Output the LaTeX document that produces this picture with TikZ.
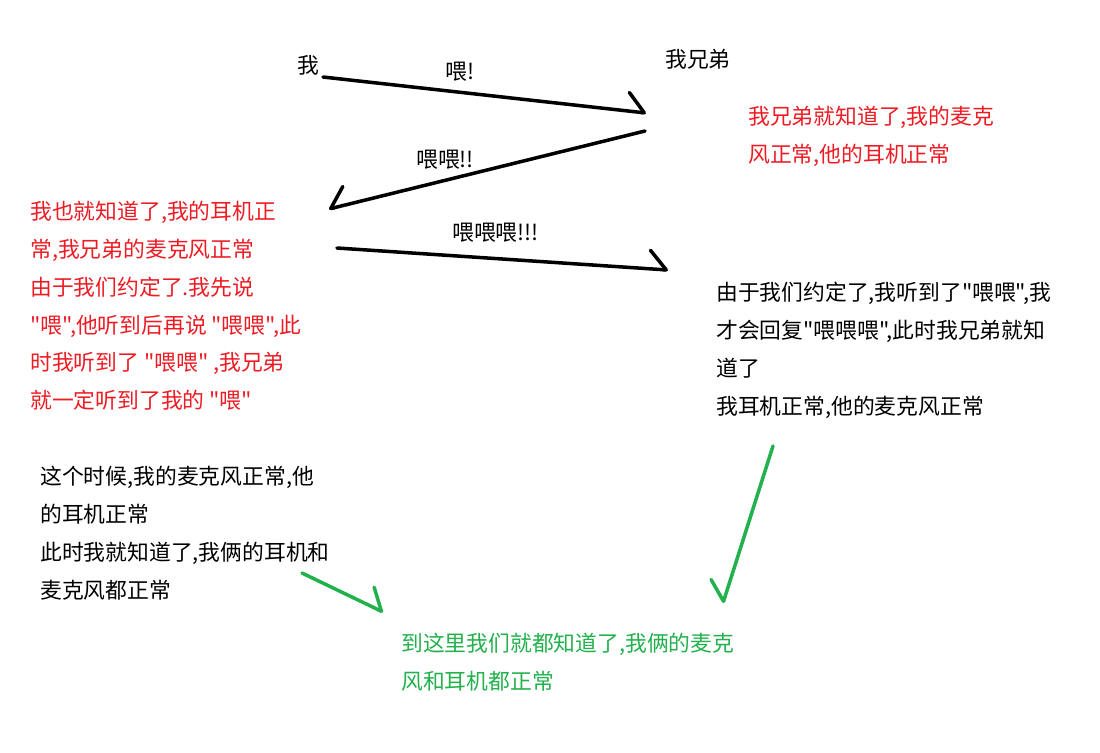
\documentclass[tikz,border=0pt]{standalone}
\usepackage{fontspec}
\newfontfamily\cjk{Noto Sans CJK SC}
\usepackage{xcolor}
\definecolor{hired}{RGB}{237,28,36}
\definecolor{higreen}{RGB}{34,177,76}
\usepackage{tikz}
\usetikzlibrary{arrows.meta}

\tikzset{
  said/.style={inner sep=0pt, anchor=north west, font=\cjk\fontsize{12.4}{21.5}\selectfont},
  note/.style={said, align=left},
  msg/.style={line width=2pt, line cap=round,
    -{Straight Barb[#1, length=0.34cm, width=0.74cm, round]}},
}

\begin{document}
\begin{tikzpicture}[x=0.02cm, y=-0.02cm]
  \useasboundingbox (0,0) rectangle (1100,752);

  % --- the two ends ---
  \node[said] (me)  at (297,55) {我};
  \node[said] (bro) at (665,49) {我兄弟};

  % --- messages ---
  \coordinate (m1s) at (323,77);  \coordinate (m1e) at (646,113);
  \coordinate (m2s) at (645,131); \coordinate (m2e) at (329,209);
  \coordinate (m3s) at (337,248); \coordinate (m3e) at (668,270);
  \draw[msg=left]  (m1s) -- (m1e);
  \draw[msg=right] (m2s) -- (m2e);
  \draw[msg=left]  (m3s) -- (m3e);
  \node[said] (hi1) at (445,62)  {喂!};
  \node[said] (hi2) at (416,150) {喂喂!!};
  \node[said] (hi3) at (452,223) {喂喂喂!!!};

  % --- what each side knows ---
  \node[note, hired] (broknows) at (748,106)
    {我兄弟就知道了,我的麦克\\风正常,他的耳机正常};
  \node[note, hired] (meknows) at (30,201)
    {我也就知道了,我的耳机正\\常,我兄弟的麦克风正常\\由于我们约定了.我先说\\"喂",他听到后再说 "喂喂",此\\时我听到了 "喂喂" ,我兄弟\\就一定听到了我的 "喂"};
  \node[note] (broreply) at (716,282)
    {由于我们约定了,我听到了"喂喂",我\\才会回复"喂喂喂",此时我兄弟就知\\道了\\我耳机正常,他的麦克风正常};
  \node[note] (mefinal) at (40,466)
    {这个时候,我的麦克风正常,他\\的耳机正常\\此时我就知道了,我俩的耳机和\\麦克风都正常};

  % --- conclusion ---
  \node[note, higreen] (both) at (401,633)
    {到这里我们就都知道了,我俩的麦克\\风和耳机都正常};
  \coordinate (g1s) at (302,573); \coordinate (g1e) at (383,612);
  \coordinate (g2s) at (773,446); \coordinate (g2e) at (723,603);
  \draw[msg=left, higreen]  (g1s) -- (g1e);
  \draw[msg=right, higreen] (g2s) -- (g2e);
\end{tikzpicture}
\end{document}
